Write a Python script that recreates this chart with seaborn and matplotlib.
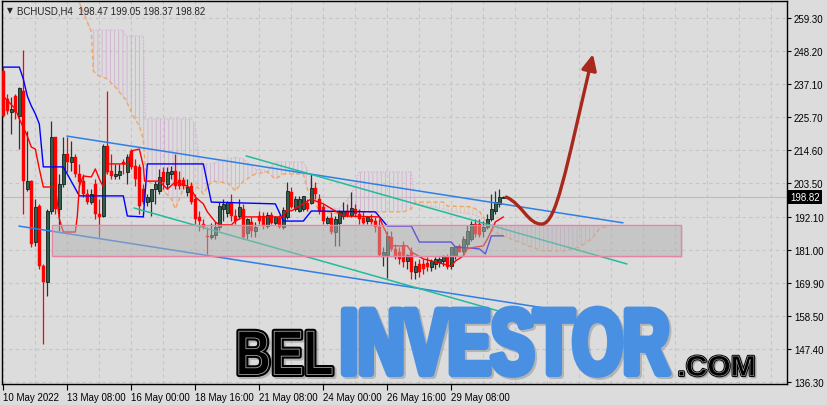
import numpy as np
import matplotlib
matplotlib.use('Agg')
import matplotlib.pyplot as plt
import matplotlib.colors as mcolors
from matplotlib.patches import Rectangle, FancyArrowPatch
from matplotlib.path import Path
from matplotlib.patheffects import AbstractPathEffect
from matplotlib.transforms import Affine2D, blended_transform_factory
from matplotlib.ticker import MultipleLocator
import seaborn as sns

# ---- BCHUSD H4 candles, one per 4h bar (bar 0 = 10 May 2022 16:00) ----
opens = [241.4, 231.9, 227.5, 232.9, 226.2, 234.6, 201.5, 204.2, 183.6, 195.8,
         175.5, 170.1, 194.1, 219.1, 194.8, 203.2, 213.3, 210.7, 212.3, 206.6,
         204.2, 199.8, 197.1, 203.2, 193.1, 192.4, 216.0, 207.6, 205.9, 206.3,
         210.7, 207.3, 214.4, 209.3, 209.0, 201.5, 197.1, 197.5, 201.5, 200.9,
         207.3, 203.2, 206.6, 207.6, 204.6, 204.6, 200.5, 202.5, 198.2, 192.1,
         189.7, 185.6, 185.3, 186.0, 188.7, 194.8, 193.4, 197.1, 192.4, 192.4,
         194.8, 186.7, 190.4, 187.4, 192.4, 192.4, 189.0, 192.8, 190.0, 191.8,
         188.7, 192.1, 200.5, 194.8, 194.1, 194.8, 196.9, 196.9, 201.9, 198.2,
         195.5, 190.0, 191.8, 187.0, 190.0, 192.4, 194.1, 192.8, 194.8, 193.1,
         191.8, 190.7, 191.4, 190.7, 188.7, 178.9, 179.2, 185.3, 181.3, 180.2,
         182.6, 177.2, 180.2, 173.5, 176.2, 176.2, 176.5, 175.2, 176.2, 176.9,
         177.2, 178.6, 175.5, 179.2, 182.3, 180.6, 182.9, 184.6, 189.7, 189.7,
         187.4, 188.7, 191.4, 194.1, 196.5, 198.47]
highs = [242.8, 233.6, 232.6, 233.6, 236.0, 248.5, 221.1, 204.6, 198.2, 196.5,
         176.2, 194.8, 224.5, 219.1, 206.6, 219.1, 219.1, 217.7, 213.3, 210.0,
         206.6, 201.5, 201.5, 204.9, 198.2, 216.7, 234.6, 213.3, 210.0, 210.0,
         211.7, 213.3, 215.0, 211.7, 210.0, 203.2, 199.8, 201.5, 204.2, 208.3,
         209.0, 209.0, 209.3, 213.3, 207.6, 205.6, 204.9, 203.9, 199.8, 194.1,
         191.4, 188.7, 190.0, 190.4, 197.1, 198.2, 197.5, 199.8, 194.8, 198.2,
         196.5, 191.8, 192.1, 190.4, 194.1, 193.8, 193.8, 193.8, 192.4, 192.8,
         195.5, 203.9, 202.2, 199.1, 199.1, 199.1, 198.2, 206.6, 203.9, 199.8,
         196.5, 192.4, 193.8, 192.4, 194.5, 197.1, 196.5, 200.5, 196.5, 194.8,
         193.8, 192.4, 193.1, 192.1, 191.4, 181.9, 187.4, 187.4, 183.0, 181.9,
         183.9, 179.6, 181.9, 177.2, 177.9, 177.9, 178.6, 177.9, 178.6, 178.6,
         179.2, 179.6, 182.0, 182.3, 182.9, 185.6, 189.4, 190.7, 191.4, 191.4,
         190.7, 193.1, 199.8, 200.9, 201.5, 199.05]
lows = [225.9, 226.9, 220.1, 225.2, 215.0, 193.1, 200.9, 181.9, 182.3, 174.5,
        149.2, 165.4, 193.1, 193.1, 187.4, 202.2, 207.3, 207.6, 205.6, 202.2,
        198.8, 196.5, 196.5, 191.4, 185.3, 192.1, 206.6, 204.9, 204.9, 204.9,
        206.6, 203.2, 208.3, 202.5, 193.1, 196.5, 195.8, 192.4, 196.5, 199.8,
        201.5, 201.5, 204.9, 201.5, 201.5, 201.5, 199.1, 196.5, 189.7, 187.4,
        188.0, 179.6, 184.6, 184.6, 187.7, 190.7, 192.1, 190.7, 189.7, 191.4,
        184.6, 184.6, 185.3, 185.3, 189.7, 188.0, 188.4, 189.7, 189.4, 188.4,
        188.0, 191.4, 195.1, 194.1, 193.8, 194.1, 194.1, 196.5, 198.2, 193.1,
        189.7, 189.7, 186.3, 182.3, 182.3, 191.4, 192.1, 192.1, 192.1, 189.7,
        189.7, 189.7, 189.7, 187.0, 178.9, 175.5, 171.5, 180.6, 177.9, 176.2,
        175.2, 174.5, 171.1, 171.1, 171.8, 172.8, 173.8, 173.8, 174.5, 175.2,
        175.5, 174.5, 174.5, 177.9, 180.2, 179.6, 181.9, 183.9, 185.3, 185.3,
        185.3, 188.0, 190.7, 193.1, 195.5, 198.37]
closes = [226.2, 227.9, 228.6, 227.5, 235.6, 204.2, 204.2, 182.9, 195.5, 175.5,
          170.1, 194.1, 219.1, 194.8, 203.2, 213.3, 210.7, 212.3, 206.6, 203.9,
          199.8, 197.1, 199.8, 193.1, 192.1, 216.0, 207.3, 205.9, 206.6, 207.6,
          210.0, 212.3, 209.0, 204.9, 195.8, 197.1, 198.8, 201.5, 203.2, 205.6,
          203.9, 207.3, 207.6, 202.5, 202.5, 202.5, 202.2, 197.1, 191.4, 190.7,
          188.7, 185.3, 186.0, 188.7, 195.8, 196.5, 197.1, 192.4, 190.7, 195.5,
          185.3, 191.4, 187.4, 188.7, 190.7, 189.0, 192.8, 190.0, 192.1, 188.7,
          194.4, 200.9, 195.5, 198.2, 198.2, 199.1, 194.8, 201.9, 199.8, 194.1,
          190.7, 191.8, 187.0, 191.4, 193.8, 194.1, 192.4, 195.1, 193.1, 191.4,
          190.0, 192.1, 190.4, 188.7, 179.2, 180.2, 185.6, 181.3, 178.6, 177.9,
          176.9, 179.2, 173.5, 175.5, 173.5, 174.5, 175.2, 177.2, 177.9, 177.9,
          178.9, 175.2, 181.9, 182.3, 180.2, 184.6, 187.4, 189.7, 186.3, 186.0,
          188.7, 191.4, 194.8, 197.1, 198.8, 198.82]
last_price = 198.82

# ---- Ichimoku lines (bar, price) ----
kijun_bar = [0, 4, 5, 6, 7, 8, 9, 10, 15, 19, 30, 31, 35, 36, 50, 52, 68, 70, 75, 77,
             93, 96, 102, 104, 112, 113, 119, 120.5, 122, 125]
kijun_val = [242.7, 242.7, 238.7, 232.9, 229.6, 226.9, 223.5, 209.0, 209.0, 199.2,
             199.2, 192.4, 192.1, 210.0, 210.0, 197.1, 196.5, 190.7, 190.7, 194.1,
             193.8, 189.0, 189.0, 183.6, 183.6, 181.9, 181.3, 179.6, 185.7, 185.7]
tenkan_bar = [0, 3, 4, 6, 7, 8, 9, 10, 13, 14, 15, 18, 18.5, 19, 20, 22, 23, 24, 25, 26,
              31, 32, 34, 35, 35.3, 39, 41, 43, 46, 47, 48, 50, 51, 53, 54, 57, 58, 60,
              70, 71, 72, 77, 78, 80, 83, 85, 94, 95, 95.5, 97, 101, 102, 105, 110,
              112, 113, 115, 116, 118, 120, 121, 122, 123, 125]
tenkan_val = [232.9, 228.6, 225.2, 219.4, 215.7, 215.0, 208.3, 202.2, 202.2, 191.4,
              187.0, 187.0, 192.4, 202.5, 205.9, 205.6, 208.3, 204.9, 202.2, 210.0,
              210.0, 214.4, 215.0, 209.3, 204.2, 204.2, 201.5, 203.9, 202.5, 201.5,
              198.8, 196.5, 193.8, 190.4, 189.4, 189.4, 190.7, 192.1, 192.1, 194.8,
              194.1, 198.2, 197.5, 196.5, 194.1, 192.4, 192.1, 188.7, 187.4, 182.3,
              182.3, 180.3, 177.9, 176.2, 175.5, 177.2, 178.9, 181.3, 181.9, 182.3,
              184.6, 187.4, 190.4, 192.1]
cloud_bar = [19, 22, 22.5, 23.5, 26, 28, 30, 30.5, 32.5, 34, 35, 35.5, 36, 39, 42, 43,
             45, 47, 48, 49, 50, 52, 56, 58, 60, 63, 66, 68, 70, 75, 76, 78, 79, 84,
             87, 89, 100, 102, 103, 110, 111, 117, 119, 122, 127, 132, 135, 140, 144,
             147, 149, 151]
span_a = [264.5, 254.6, 241.4, 240.0, 238.7, 236.0, 232.6, 231.9, 226.2, 222.8, 218.4,
          208.3, 204.2, 202.2, 198.2, 194.8, 201.5, 203.2, 202.5, 201.5, 199.8, 204.2,
          203.6, 200.9, 204.2, 206.6, 207.3, 204.9, 206.6, 206.6, 201.5, 196.5, 194.1,
          193.1, 193.8, 193.8, 193.8, 194.8, 197.1, 197.1, 195.8, 195.5, 194.1, 187.4,
          184.6, 181.9, 180.6, 180.6, 181.9, 184.6, 188.0, 189.0]
span_b = [264.5, 255.2, 255.2, 255.2, 255.2, 255.2, 255.2, 253.2, 253.2, 253.2, 253.2,
          225.2, 225.2, 225.2, 225.2, 225.2, 225.2, 225.2, 222.5, 211.7, 210.0, 210.0,
          211.7, 212.3, 211.7, 208.3, 207.6, 210.7, 210.7, 210.7, 208.3, 199.8, 195.5,
          194.8, 199.8, 207.3, 207.3, 207.3, 196.5, 194.8, 194.1, 193.1, 192.1, 189.7,
          189.0, 189.0, 189.0, 189.0, 189.0, 189.0, 189.0, 189.0]

# ---- drawn objects: channels, zone, forecast ----
blue_upper = ([15.9, 154.9], [219.4, 190.1])
blue_lower = ([3.9, 139.2], [189.0, 160.5])
green_upper = ([60.7, 155.9], [212.7, 176.2])
green_lower = ([32.7, 131.7], [195.1, 157.3])
zone_bars = (12.2, 169.4)
zone_prices = (178.9, 189.4)
forecast_bar = [125.7, 129.7, 131.2, 134.7, 138.2, 140.4, 147.4]
forecast_val = [198.8, 196.5, 189.4, 189.7, 190.1, 206.6, 247.1]

tick_bars = [0, 16, 32, 48, 64, 80, 96, 112]
tick_labels = ['10 May 2022', '13 May 08:00', '16 May 00:00', '18 May 16:00',
               '21 May 08:00', '24 May 00:00', '26 May 16:00', '29 May 08:00']
price_ticks = [136.30, 147.40, 158.50, 169.90, 181.00, 192.10,
               203.50, 214.60, 225.70, 237.10, 248.20, 259.30]
header = 'BCHUSD,H4  198.47 199.05 198.37 198.82'

bg = '#dcdcdc'
sns.set_style('whitegrid', rc={'axes.facecolor': bg, 'figure.facecolor': bg,
                               'axes.edgecolor': 'black', 'axes.linewidth': 1.0})
plt.rcParams['font.family'] = ['Liberation Sans', 'DejaVu Sans']
plt.rcParams['hatch.linewidth'] = 0.6

W, H = 828, 406
fig = plt.figure(figsize=(W / 100, H / 100), dpi=100)
ax = fig.add_axes([2 / W, 21 / H, 785 / W, 383 / H])
ax.set_xlim(-0.33, 195.9)
ax.set_ylim(135.65, 265.04)

# grid
ax.set_axisbelow(True)
ax.xaxis.set_minor_locator(MultipleLocator(8))
ax.grid(False)
ax.grid(True, which='both', axis='x', color='#c5c5c5', lw=0.8, linestyle=(0, (3, 3)))
ax.grid(True, which='major', axis='y', color='#c5c5c5', lw=0.8, linestyle=(0, (3, 3)))

# ichimoku cloud
cb = np.array(cloud_bar)
sa = np.array(span_a)
sbb = np.array(span_b)
pink_hatch = (0.80, 0.62, 0.80, 0.7)
orange_hatch = (0.93, 0.72, 0.55, 0.7)
plt.rcParams['hatch.color'] = pink_hatch
ax.fill_between(cb, sa, sbb, where=sbb >= sa, interpolate=True, facecolor='none',
                edgecolor=pink_hatch, hatch='||||', lw=0, zorder=1)
plt.rcParams['hatch.color'] = orange_hatch
ax.fill_between(cb, sa, sbb, where=sa > sbb, interpolate=True, facecolor='none',
                edgecolor=orange_hatch, hatch='||||', lw=0, zorder=1)
sns.lineplot(x=cloud_bar, y=span_a, ax=ax, color='#f4a460', lw=1.0,
             linestyle=(0, (3, 2)), estimator=None, sort=False, zorder=1.5)
sns.lineplot(x=cloud_bar, y=span_b, ax=ax, color='#d6b2d6', lw=0.9,
             linestyle=(0, (1, 1.5)), estimator=None, sort=False, zorder=1.5)

# candles
x = np.arange(len(closes))
o, h, l, c = (np.array(v) for v in (opens, highs, lows, closes))
up = c >= o
body = np.maximum(np.abs(c - o), 0.35)
base = np.minimum(o, c)
ax.vlines(x[up], l[up], h[up], color='#22392f', lw=0.9, zorder=3)
ax.vlines(x[~up], l[~up], h[~up], color='#ff0000', lw=0.9, zorder=3)
ax.bar(x[up], body[up], bottom=base[up], width=0.78, color='#2f5e4c',
       edgecolor='#142019', lw=0.6, zorder=3.1)
ax.bar(x[~up], body[~up], bottom=base[~up], width=0.78, color='#ff0000',
       edgecolor='#ff0000', lw=0.3, zorder=3.1)

# tenkan / kijun
sns.lineplot(x=kijun_bar, y=kijun_val, ax=ax, color='#0000ff', lw=1.0,
             estimator=None, sort=False, zorder=4)
sns.lineplot(x=tenkan_bar, y=tenkan_val, ax=ax, color='#ff0000', lw=1.0,
             estimator=None, sort=False, zorder=4)

# channels
for (xs, ys), col in [(blue_upper, '#2f7fe6'), (blue_lower, '#2f7fe6'),
                      (green_upper, '#22bb9b'), (green_lower, '#22bb9b')]:
    sns.lineplot(x=xs, y=ys, ax=ax, color=col, lw=1.1, estimator=None,
                 sort=False, zorder=4.5)

# last price line
ax.axhline(last_price, color='#bcbcbc', lw=0.8, zorder=2)

# support zone
zx0, zx1 = zone_bars
zy0, zy1 = zone_prices
ax.add_patch(Rectangle((zx0 + 0.4, zy0 - 0.8), zx1 - zx0, zy1 - zy0,
                       facecolor=(0.5, 0.5, 0.5, 0.10), edgecolor='none', zorder=5))
ax.add_patch(Rectangle((zx0, zy0), zx1 - zx0, zy1 - zy0,
                       facecolor=(0.72, 0.72, 0.72, 0.45), edgecolor='#e386a4',
                       lw=1.0, zorder=5.1))

# forecast arrow
verts = list(zip(forecast_bar, forecast_val))
codes = [Path.MOVETO] + [Path.CURVE4] * (len(verts) - 1)
ax.add_patch(FancyArrowPatch(path=Path(verts, codes),
                             arrowstyle='-|>,head_length=0.95,head_width=0.45',
                             mutation_scale=10, color='#a8281c', lw=2.4,
                             shrinkA=0, shrinkB=0, zorder=8))

# axes / ticks
for s in ax.spines.values():
    s.set_visible(True)
    s.set_color('black')
    s.set_linewidth(1.0)
ax.set_xticks(tick_bars)
ax.set_xticklabels(tick_labels)
for lbl in ax.get_xticklabels():
    lbl.set_ha('left')
ax.tick_params(axis='x', which='major', bottom=True, length=4, width=0.8,
               direction='out', pad=2, labelsize=7, colors='black')
ax.tick_params(axis='x', which='minor', length=0)
ax.yaxis.tick_right()
ax.set_yticks(price_ticks)
ax.set_yticklabels([f'{v:.2f}' for v in price_ticks])
ax.tick_params(axis='y', right=True, length=3, width=0.8, direction='out',
               pad=2, labelsize=7, colors='black')
ax.set_xlabel('')
ax.set_ylabel('')

trans = blended_transform_factory(ax.transAxes, ax.transData)
ax.text(1.004, last_price, f'{last_price:.2f}', transform=trans, ha='left',
        va='center', fontsize=7, color='white', clip_on=False, zorder=10,
        bbox=dict(boxstyle='square,pad=0.2', fc='black', ec='none'))

fig.text(7 / W, 1 - 11 / H, '\u25bc', fontsize=5.5, va='center',
         family=['DejaVu Sans'])
fig.text(17 / W, 1 - 11 / H, header, fontsize=7, va='center')


# ---- watermark ----
class Stretch(AbstractPathEffect):
    """Draw glyph paths stretched vertically and shifted to a new baseline."""

    def __init__(self, sy, base_from, base_to, fill, stroke=None, lw=0.0,
                 offset=(0, 0)):
        super().__init__()
        self.sy, self.y0, self.y1 = sy, base_from, base_to
        self.fill = mcolors.to_rgba(fill)
        self.stroke, self.lw, self.off = stroke, lw, offset

    def draw_path(self, renderer, gc, tpath, affine, rgbFace=None):
        gc0 = renderer.new_gc()
        gc0.copy_properties(gc)
        if self.stroke is not None:
            gc0.set_foreground(self.stroke)
            gc0.set_linewidth(self.lw * 0.72)
        else:
            gc0.set_linewidth(0)
        move = (Affine2D().translate(0, -self.y0).scale(1, self.sy)
                .translate(self.off[0], self.y1 + self.off[1]))
        renderer.draw_path(gc0, tpath, affine + move, self.fill)
        gc0.restore()


def watermark(s, left, right, top, bottom, layers, lw_px):
    r = fig.canvas.get_renderer()
    t = fig.text(0.5, 0.5, s, fontsize=40, fontweight='bold',
                 family='Liberation Sans', ha='center', va='baseline', zorder=20)
    w0 = t.get_window_extent(r).width
    size = 40 * (right - left - lw_px) / w0
    t.set_fontsize(size)
    em = size / 0.72
    descent = 0.212 * em
    text_base = bottom - descent
    t.set_position(((left + right) / 2 / W, 1 - text_base / H))
    sy = (bottom - top - lw_px) / (0.716 * em)
    y_from = H - text_base
    y_to = H - (bottom - lw_px / 2)
    t.set_path_effects([Stretch(sy, y_from, y_to, **kw) for kw in layers])


shadow = (0, 0, 0, 0.18)
watermark('INVESTOR', 337, 673, 305, 378, [
    dict(fill=shadow, stroke=shadow, lw=7, offset=(2, -2)),
    dict(fill='#4a90e2', stroke='#4a90e2', lw=7),
], 7)
watermark('BEL', 233, 336, 328, 378, [
    dict(fill=shadow, stroke=shadow, lw=5, offset=(2, -2)),
    dict(fill='black', stroke='black', lw=5),
    dict(fill='black', stroke='#a8a8a8', lw=0.8),
], 5)
watermark('.COM', 676, 757, 355, 378, [
    dict(fill=shadow, stroke=shadow, lw=2.5, offset=(1.5, -1.5)),
    dict(fill='black', stroke='black', lw=2.5),
    dict(fill='black', stroke='#a8a8a8', lw=0.6),
], 2.5)

fig.savefig('out.png', dpi=100, facecolor=bg)
